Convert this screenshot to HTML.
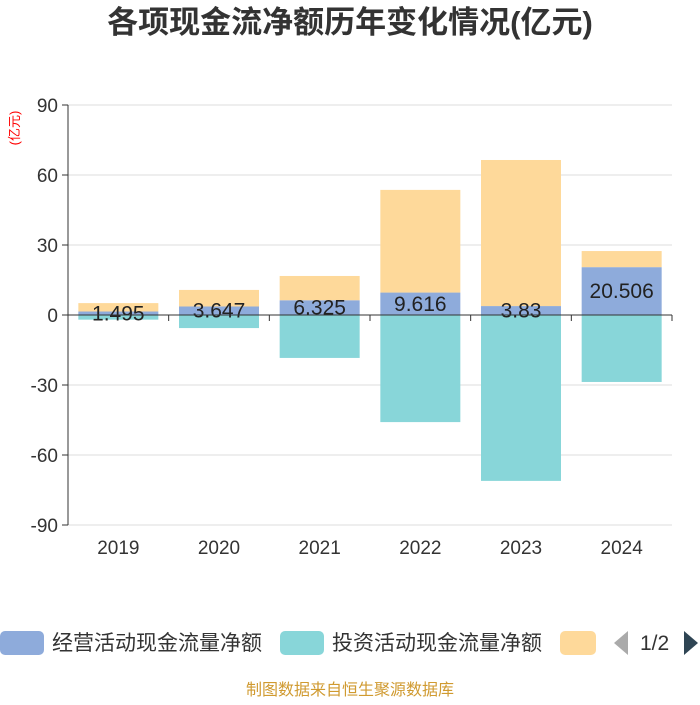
<!DOCTYPE html>
<html><head><meta charset="utf-8"><style>
body{margin:0;background:#fff;width:700px;height:700px;overflow:hidden;font-family:"Liberation Sans","Noto Sans CJK SC",sans-serif}
</style></head><body>
<svg width="700" height="700" xmlns="http://www.w3.org/2000/svg">
<text x="350" y="33" text-anchor="middle" font-size="31" font-weight="bold" fill="#333" font-family="Liberation Sans,Noto Sans CJK SC,sans-serif">各项现金流净额历年变化情况(亿元)</text>
<text transform="translate(19,128) rotate(-90)" text-anchor="middle" font-size="13" fill="#f00" font-family="Liberation Sans,Noto Sans CJK SC,sans-serif">(亿元)</text>
<g id="grid"></g><g id="bars"></g><g id="axes"></g>
<g font-family="Liberation Sans,Noto Sans CJK SC,sans-serif" font-size="21" fill="#333">
<rect x="0" y="631" width="44" height="24" rx="5" fill="#8eabdb"/>
<text x="52" y="650">经营活动现金流量净额</text>
<rect x="280" y="631" width="44" height="24" rx="5" fill="#88d6d9"/>
<text x="332" y="650">投资活动现金流量净额</text>
<rect x="560" y="631" width="36" height="24" rx="5" fill="#fed99a"/>
<path d="M628 631 L628 655 L614 643Z" fill="#aaa"/>
<text x="640" y="650">1/2</text>
<path d="M684 631 L684 655 L698 643Z" fill="#2f4554"/>
</g>
<text x="350" y="695" text-anchor="middle" font-size="16" fill="#d09a30" font-family="Liberation Sans,Noto Sans CJK SC,sans-serif">制图数据来自恒生聚源数据库</text>
</svg>
<script>
const categories=["2019","2020","2021","2022","2023","2024"];
const operating=[1.495,3.647,6.325,9.616,3.83,20.506];
const investing=[-2.0,-5.6,-18.4,-45.9,-71.1,-28.7];
const financing=[3.6,7.1,10.4,44.0,62.6,6.9];
const yTicks=[90,60,30,0,-30,-60,-90];
const NS="http://www.w3.org/2000/svg";
const x0=68,x1=672,yTop=105,yBot=525;
const y=v=>315-(v)*(210/90);
const band=(x1-x0)/categories.length;
const xc=i=>x0+band*(i+0.5);
function mk(t,a,p){const e=document.createElementNS(NS,t);for(const k in a)e.setAttribute(k,a[k]);p.appendChild(e);return e;}
const grid=document.getElementById('grid'),bars=document.getElementById('bars'),axes=document.getElementById('axes');
yTicks.forEach(v=>{
 const g=mk('line',{x1:x0,x2:x1,y1:y(v),y2:y(v),stroke:'#ddd','stroke-width':1},grid);
 
 
 const tk=mk('line',{x1:x0-6,x2:x0,y1:y(v),y2:y(v),stroke:'#333'},axes);
 
 
 const t=mk('text',{x:x0-10,y:y(v)+7,'text-anchor':'end','font-size':19,fill:'#333'},axes);
 t.textContent=v;
 
 
});
const ax=mk('line',{x1:x0,x2:x0,y1:yTop,y2:yBot,stroke:'#333'},axes);


const zx=mk('line',{x1:x0,x2:x1,y1:y(0),y2:y(0),stroke:'#333'},axes);


const bw=80;
categories.forEach((c,i)=>{
 const tk=mk('line',{x1:x0+band*(i+1),x2:x0+band*(i+1),y1:y(0),y2:y(0)+6,stroke:'#333'},axes);
 
 
 const bx=xc(i)-bw/2;
 const op=operating[i];
 const r1=mk('rect',{x:bx,y:y(op),width:bw,height:y(0)-y(op),fill:'#8eabdb'},bars);
 
 
 const f=financing[i];
 const r3=mk('rect',{x:bx,y:y(op+f),width:bw,height:y(op)-y(op+f),fill:'#fed99a'},bars);
 
 
 const iv=investing[i];
 const r2=mk('rect',{x:bx,y:y(0),width:bw,height:y(iv)-y(0),fill:'#88d6d9'},bars);
 
 
 const lb=mk('text',{x:xc(i),y:y(op/2)+7,'text-anchor':'middle','font-size':21,fill:'#222'},bars);
 lb.textContent=op;
 
 
 const cl=mk('text',{x:xc(i),y:554,'text-anchor':'middle','font-size':19,fill:'#333'},axes);
 cl.textContent=c;
 
 
});
</script>
</body></html>
